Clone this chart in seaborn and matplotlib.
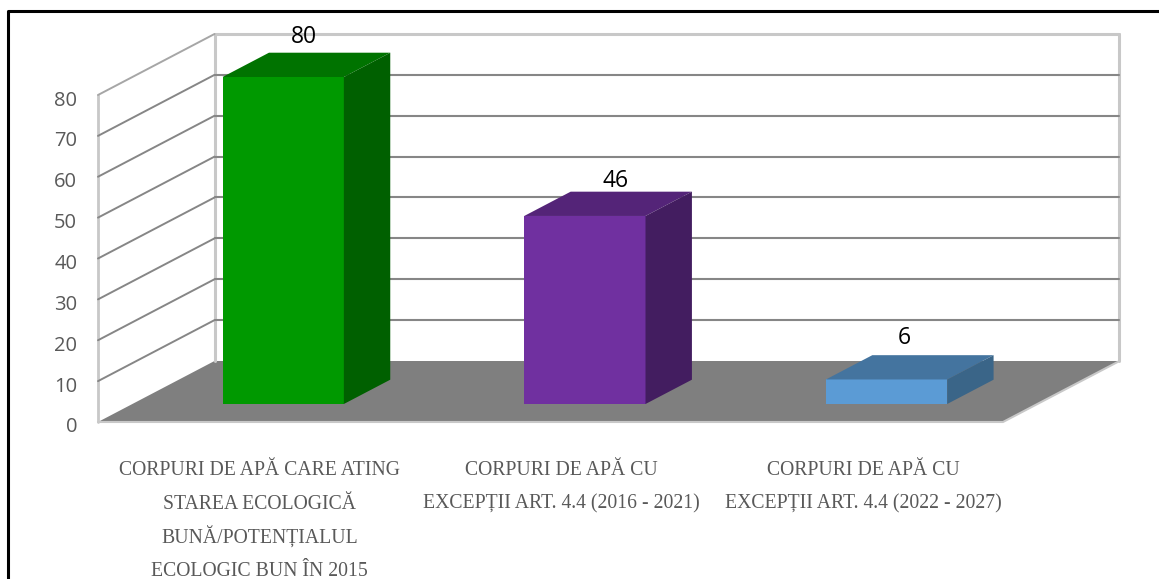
import matplotlib
matplotlib.use("Agg")
import matplotlib.pyplot as plt
import seaborn as sns
from matplotlib.lines import Line2D
from matplotlib.transforms import Affine2D, ScaledTranslation

category_lines = [
    ["CORPURI DE APĂ CARE ATING", "STAREA ECOLOGICĂ", "BUNĂ/POTENȚIALUL", "ECOLOGIC BUN ÎN 2015"],
    ["CORPURI DE APĂ CU", "EXCEPȚII ART. 4.4 (2016 - 2021)"],
    ["CORPURI DE APĂ CU", "EXCEPȚII ART. 4.4 (2022 - 2027)"],
]
values = [80, 46, 6]
front_colors = ["#009900", "#7030A0", "#5B9BD5"]
top_colors = ["#007300", "#542478", "#44749F"]
side_colors = ["#006000", "#431D60", "#3A6588"]
y_ticks = [0, 10, 20, 30, 40, 50, 60, 70, 80]
label_offsets_px = [(21, 40), (31, 35), (18, 41)]

W, H = 1159, 579
sns.set_theme(style="white")
plt.rcParams["font.family"] = ["Open Sans", "DejaVu Sans"]
fig = plt.figure(figsize=(W / 100, H / 100), dpi=100, facecolor="white")
ax = fig.add_axes([98 / W, 1 - 422 / H, 905 / W, 327 / H])
ax.set_facecolor("none")

sns.barplot(x=list(range(3)), y=values, hue=list(range(3)), palette=front_colors,
            width=0.402, legend=False, saturation=1, ax=ax, zorder=5, linewidth=0)
bars = sorted(ax.patches, key=lambda p: p.get_x())
ax.set_xlim(-0.5, 2.5)
ax.set_ylim(0, 80)

px_x = 3 / 905
px_y = 80 / 327
depth_x = 116.5 * px_x
depth_y = 61 * px_y
x0, x1 = -0.5, 2.5

# floor and walls
ax.fill([x0, x1, x1 + depth_x, x0 + depth_x], [0, 0, depth_y, depth_y],
        color="#7F7F7F", zorder=1, clip_on=False, lw=0)
light = "#C8C8C8"
ax.plot([x0, x1, x1 + depth_x], [0, 0, depth_y], color=light, lw=1.5, zorder=2, clip_on=False)
ax.plot([x0, x0], [0, 80], color=light, lw=2, zorder=2, clip_on=False)
ax.plot([x0 + depth_x] * 2, [depth_y, 80 + depth_y], color=light, lw=2.2, zorder=2, clip_on=False)
ax.plot([x1 + depth_x] * 2, [depth_y, 80 + depth_y], color=light, lw=2.2, zorder=2, clip_on=False)
ax.plot([x0 + depth_x, x1 + depth_x], [80 + depth_y] * 2, color=light, lw=2.2, zorder=2, clip_on=False)
ax.plot([x0, x0 + depth_x], [80, 80 + depth_y], color="#A6A6A6", lw=1.4, zorder=2, clip_on=False)
for t in y_ticks[1:-1]:
    ax.plot([x0, x0 + depth_x], [t, t + depth_y], color="#868686", lw=1.4, zorder=3, clip_on=False)
    ax.plot([x0 + depth_x, x1 + depth_x], [t + depth_y] * 2, color="#868686", lw=1.5, zorder=3, clip_on=False)

# bars: pushed back onto the floor, with top and side faces
front_depth = 18 / 61
bar_depth = 24.3 / 61
sx, sy = front_depth * depth_x, front_depth * depth_y
bx, by = bar_depth * depth_x, bar_depth * depth_y
for i, patch in enumerate(bars):
    patch.set_transform(Affine2D().translate(sx, sy) + ax.transData)
    patch.set_clip_on(False)
    l, r = patch.get_x() + sx, patch.get_x() + patch.get_width() + sx
    b, t = sy, values[i] + sy
    ax.fill([l, r, r + bx, l + bx], [t, t, t + by, t + by], color=top_colors[i],
            zorder=5, clip_on=False, lw=0)
    ax.fill([r, r + bx, r + bx, r], [b, b + by, t + by, t], color=side_colors[i],
            zorder=5, clip_on=False, lw=0)
    ox, oy = label_offsets_px[i]
    ax.annotate(str(values[i]), xy=((l + r) / 2, t), xytext=(ox * 0.72, oy * 0.72),
                textcoords="offset points", ha="center", va="center", color="black",
                fontsize=16.5, zorder=7, annotation_clip=False)

for s in ax.spines.values():
    s.set_visible(False)
ax.set_yticks(y_ticks)
ax.tick_params(axis="y", length=0, pad=15, labelsize=14.5, labelcolor="#595959")
for lab in ax.get_yticklabels():
    lab.set_transform(lab.get_transform() + ScaledTranslation(0, -3 / 100, fig.dpi_scale_trans))

# category labels, one baseline per line for an even spacing
ax.set_xticks(range(3))
ax.set_xticklabels([])
ax.tick_params(axis="x", length=0)
for i, lines in enumerate(category_lines):
    for k, line in enumerate(lines):
        ax.annotate(line, xy=(i, 0), xycoords=("data", "axes fraction"),
                    xytext=(11 * 0.72, -(53 + 33.7 * k) * 0.72), textcoords="offset points",
                    ha="center", va="baseline", fontfamily="Liberation Serif", fontsize=14.2,
                    color="#595959", annotation_clip=False)
ax.set_xlabel("")
ax.set_ylabel("")

# outer frame, cut by the image's right and bottom edges
fig.add_artist(Line2D([7.5 / W, 7.5 / W, 1], [0, 1 - 11 / H, 1 - 11 / H], color="black", lw=2.2,
                      transform=fig.transFigure))
fig.savefig("out.png", dpi=100, facecolor="white")
